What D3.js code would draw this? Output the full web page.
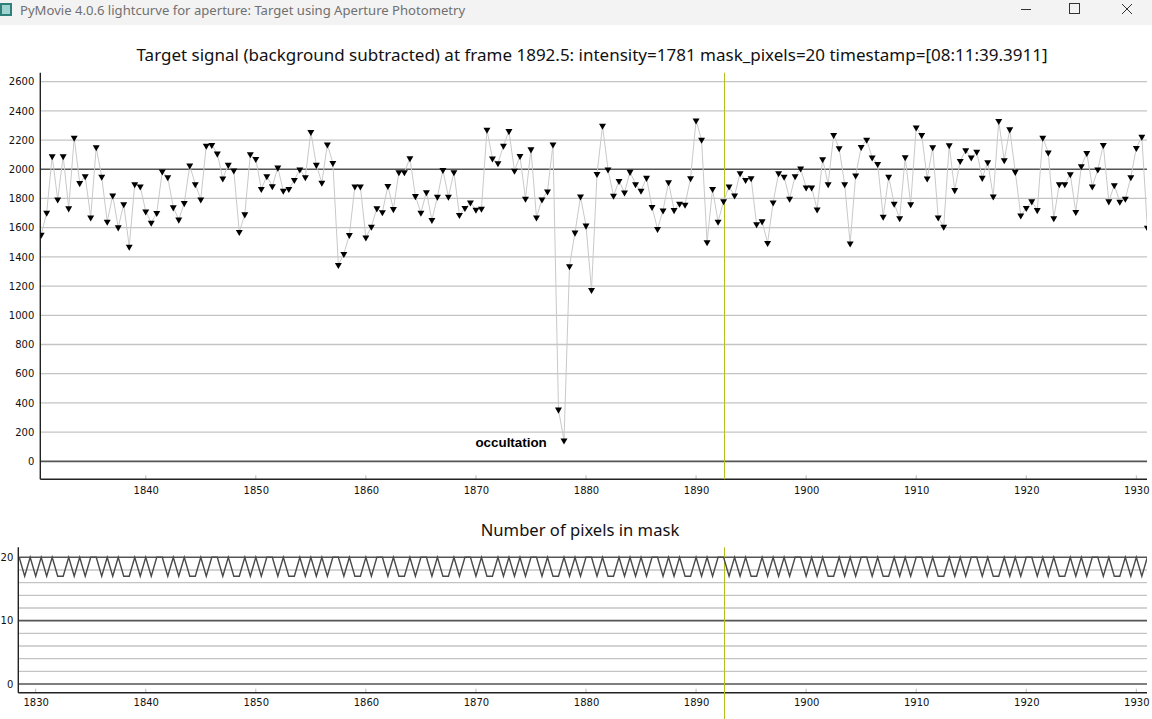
<!DOCTYPE html>
<html>
<head>
<meta charset="utf-8">
<script src="https://cdn.jsdelivr.net/npm/d3@7/dist/d3.min.js"></script>
<style>
  html, body { margin: 0; padding: 0; background: #ffffff; }
  svg { display: block; }
</style>
</head>
<body>
<svg id="chart" width="1152" height="719"></svg>
<script>
// ---------------- DATA ----------------
const windowTitle = "PyMovie 4.0.6 lightcurve for aperture: Target using Aperture Photometry";
const topTitle = "Target signal (background subtracted) at frame 1892.5: intensity=1781 mask_pixels=20 timestamp=[08:11:39.3911]";
const bottomTitle = "Number of pixels in mask";
const annotationText = "occultation";
const cursorFrame = 1892.5;

// signal: frames start at 1830.5, one reading per half frame
const signalStart = 1830.5;
const signalStep = 0.5;
const signalValues = [
  1552,1702,2089,1793,2089,1732,2216,1905,1952,1670,
  2150,1948,1641,1820,1602,1761,1470,1898,1882,1711,
  1634,1700,1984,1945,1739,1655,1768,2025,1898,1793,
  2161,2166,2107,1936,2030,1991,1570,1691,2102,2070,
  1864,1952,1884,2011,1852,1864,1927,1998,1945,2255,
  2030,1907,2170,2043,1345,1420,1550,1882,1882,1532,
  1607,1732,1705,1886,1727,1980,1980,2075,1816,1702,
  1843,1652,1811,1995,1811,1980,1686,1734,1773,1723,
  1730,2270,2073,2041,2161,2261,1989,2091,1798,2136,
  1670,1793,1848,2170,354,143,1336,1566,1813,1614,
  1173,1968,2298,1998,1818,1920,1841,1982,1898,1852,
  1941,1741,1591,1718,1911,1720,1764,1757,1939,2334,
  2202,1500,1864,1641,1781,1882,1820,1973,1927,1939,
  1623,1643,1495,1773,1973,1948,1798,1952,2005,1875,
  1875,1725,2068,1898,2234,2143,1898,1491,1957,2152,
  2202,2080,2036,1675,1948,1764,1664,2082,1761,2286,
  2234,1936,2150,1670,1607,2164,1857,2057,2130,2080,
  2120,1941,2048,1814,2330,2061,2273,1982,1684,1734,
  1780,1720,2216,2114,1664,1898,1898,1966,1707,2020,
  2111,1882,1998,2166,1780,1891,1777,1798,1945,2145,
  2223,1600
];

// mask pixels: frames start at 1828.5, one reading per half frame
const maskStart = 1828.5;
const maskStep = 0.5;
const maskValues = [
  20,17,20,17,20,17,20,17,17,
  20,17,20,17,20,20,
  17,20,17,20,17,17,
  20,17,20,17,20,20,
  17,20,17,20,17,17,
  20,17,20,20,
  17,20,17,17,
  20,17,20,17,20,20,
  17,20,17,17,
  20,17,20,17,20,17,20,20,
  17,20,17,17,
  20,17,20,20,
  17,20,17,17,
  20,17,20,20,
  17,20,17,17,
  20,17,20,20,
  17,20,17,17,
  20,17,20,17,20,17,20,20,
  17,20,17,17,
  20,17,20,17,20,20,
  17,20,17,17,
  20,17,20,17,20,17,20,20,
  17,20,17,20,17,17,
  20,17,20,17,20,20,
  17,20,17,20,17,17,
  20,17,20,17,20,17,20,20,
  17,20,17,20,17,17,
  20,17,20,17,20,20,
  17,20,17,17,
  20,17,20,17,20,20,
  17,20,17,17,
  20,17,20,17,20,20,
  17,20,17,17,
  20,17,20,17,20,20,
  17,20,17,20,17,17,
  20,17,20,17,20,20,
  17,20,17,17,
  20,17,20,17,20
];

const topYTicks = [0,200,400,600,800,1000,1200,1400,1600,1800,2000,2200,2400,2600];
const topYDark = [0, 2000];
const topXTicks = [1840,1850,1860,1870,1880,1890,1900,1910,1920,1930];
const botYTicks = [0,10,20];
const botYGrid = [0,2,4,6,8,10,12,14,16,18,20];
const botYDark = [0,10,20];
const botXTicks = [1830,1840,1850,1860,1870,1880,1890,1900,1910,1920,1930];

const signal = signalValues.map((v, i) => ({ f: signalStart + signalStep * i, v }));
const mask = maskValues.map((v, i) => ({ f: maskStart + maskStep * i, v }));

// ---------------- LAYOUT ----------------
const svg = d3.select("#chart");
const tickFont = "'DejaVu Sans', Verdana, sans-serif";
const titleFont = "'Noto Sans', 'Open Sans', sans-serif";
const cursorColor = "#b4c020";

// window title bar
svg.append("rect").attr("x", 0).attr("y", 0).attr("width", 1152).attr("height", 25).attr("fill", "#f3f3f3");
svg.append("rect").attr("x", 0).attr("y", 3).attr("width", 12).attr("height", 13).attr("fill", "#2f7f7a");
svg.append("rect").attr("x", 2).attr("y", 5).attr("width", 8).attr("height", 9).attr("fill", "#9fd3cf");
svg.append("text").attr("x", 20).attr("y", 15).attr("font-family", "'Noto Sans', 'Open Sans', sans-serif")
  .attr("font-size", 13.1).attr("fill", "#707070").text(windowTitle);
// window controls
svg.append("line").attr("x1", 1021).attr("x2", 1031).attr("y1", 9.5).attr("y2", 9.5).attr("stroke", "#333").attr("stroke-width", 1);
svg.append("rect").attr("x", 1069.5).attr("y", 3.5).attr("width", 10).attr("height", 10).attr("fill", "none").attr("stroke", "#333").attr("stroke-width", 1);
svg.append("path").attr("d", "M1122,4 L1132,14 M1132,4 L1122,14").attr("stroke", "#333").attr("stroke-width", 1);

// ---------------- TOP PLOT ----------------
const T = { left: 40.3, right: 1147, top: 72.7, bottom: 479.3 };
const xTop = d3.scaleLinear().domain([1830.42, 1930.97]).range([T.left, T.right]);
const yTop = d3.scaleLinear().domain([-123, 2661]).range([T.bottom, T.top]);

svg.append("defs").html(
  `<clipPath id="clipTop"><rect x="${T.left}" y="${T.top}" width="${T.right - T.left}" height="${T.bottom - T.top}"/></clipPath>` +
  `<clipPath id="clipBot"><rect x="18.3" y="547.3" width="${1147 - 18.3}" height="${692.7 - 547.3}"/></clipPath>`
);

svg.append("text").attr("x", 592).attr("y", 61).attr("text-anchor", "middle")
  .attr("font-family", titleFont).attr("font-size", 17).attr("fill", "#111").text(topTitle);

const gTop = svg.append("g");
// grid
gTop.selectAll("line.grid").data(topYTicks).enter().append("line")
  .attr("x1", T.left).attr("x2", T.right)
  .attr("y1", d => yTop(d)).attr("y2", d => yTop(d))
  .attr("stroke", d => topYDark.includes(d) ? "#555555" : "#c4c4c4")
  .attr("stroke-width", d => topYDark.includes(d) ? 1.6 : 1.3);

// y axis
const yAxisTop = d3.axisLeft(yTop).tickValues(topYTicks).tickSize(0).tickPadding(6).tickFormat(d3.format("d"));
const yAx = svg.append("g").attr("transform", `translate(${T.left},0)`).call(yAxisTop);
yAx.select(".domain").remove();
yAx.selectAll("text").attr("font-family", tickFont).attr("font-size", 10).attr("fill", "#111");
svg.append("line").attr("x1", T.left).attr("x2", T.left).attr("y1", T.top).attr("y2", T.bottom)
  .attr("stroke", "#222").attr("stroke-width", 1.4);

// x axis
const xAxisTop = d3.axisBottom(xTop).tickValues(topXTicks).tickSize(0).tickPadding(8).tickFormat(d3.format("d"));
const xAx = svg.append("g").attr("transform", `translate(0,${T.bottom})`).call(xAxisTop);
xAx.select(".domain").remove();
xAx.selectAll("text").attr("font-family", tickFont).attr("font-size", 10).attr("fill", "#111");
gTop.selectAll("line.xt").data(topXTicks).enter().append("line")
  .attr("x1", d => xTop(d)).attr("x2", d => xTop(d))
  .attr("y1", T.bottom - 4).attr("y2", T.bottom)
  .attr("stroke", "#bbbbbb").attr("stroke-width", 1);
svg.append("line").attr("x1", T.left).attr("x2", T.right).attr("y1", T.bottom).attr("y2", T.bottom)
  .attr("stroke", "#222").attr("stroke-width", 1.4);

// cursor line (snapped to a pixel column for a crisp colour)
const cxTop = Math.round(xTop(cursorFrame)) + 0.5;
svg.append("line").attr("x1", cxTop).attr("x2", cxTop)
  .attr("y1", T.top).attr("y2", T.bottom).attr("stroke", cursorColor).attr("stroke-width", 1);

// signal line + markers
const clipTop = svg.append("g").attr("clip-path", "url(#clipTop)");
clipTop.append("path").datum(signal)
  .attr("d", d3.line().x(d => xTop(d.f)).y(d => yTop(d.v)))
  .attr("fill", "none").attr("stroke", "#c9c9c9").attr("stroke-width", 1);
const tri = d3.symbol().type(d3.symbolTriangle).size(21);
clipTop.selectAll("path.mk").data(signal).enter().append("path")
  .attr("class", "mk")
  .attr("d", tri)
  .attr("transform", d => `translate(${xTop(d.f)},${yTop(d.v)}) rotate(180)`)
  .attr("fill", "#000");

// annotation
svg.append("text").attr("x", xTop(1869.95)).attr("y", yTop(100))
  .attr("font-family", "'Liberation Sans', Arial, sans-serif").attr("font-weight", "bold")
  .attr("font-size", 13.4).attr("fill", "#000").text(annotationText);

// ---------------- BOTTOM PLOT ----------------
const B = { left: 18.3, right: 1147, top: 547.3, bottom: 692.7 };
const xBot = d3.scaleLinear().domain([1828.42, 1930.97]).range([B.left, B.right]);
const yBot = d3.scaleLinear().domain([-1.37, 21.58]).range([B.bottom, B.top]);

svg.append("text").attr("x", 580).attr("y", 536).attr("text-anchor", "middle")
  .attr("font-family", titleFont).attr("font-size", 16.6).attr("fill", "#111").text(bottomTitle);

svg.selectAll("line.bgrid").data(botYGrid).enter().append("line")
  .attr("x1", B.left).attr("x2", B.right)
  .attr("y1", d => yBot(d)).attr("y2", d => yBot(d))
  .attr("stroke", d => botYDark.includes(d) ? "#555555" : "#c4c4c4")
  .attr("stroke-width", d => botYDark.includes(d) ? 1.6 : 1.3);

const yAxisBot = d3.axisLeft(yBot).tickValues(botYTicks).tickSize(0).tickPadding(5).tickFormat(d3.format("d"));
const yAxB = svg.append("g").attr("transform", `translate(${B.left},0)`).call(yAxisBot);
yAxB.select(".domain").remove();
yAxB.selectAll("text").attr("font-family", tickFont).attr("font-size", 10).attr("fill", "#111");
svg.append("line").attr("x1", B.left).attr("x2", B.left).attr("y1", B.top).attr("y2", B.bottom)
  .attr("stroke", "#222").attr("stroke-width", 1.4);

const xAxisBot = d3.axisBottom(xBot).tickValues(botXTicks).tickSize(0).tickPadding(6).tickFormat(d3.format("d"));
const xAxB = svg.append("g").attr("transform", `translate(0,${B.bottom})`).call(xAxisBot);
xAxB.select(".domain").remove();
xAxB.selectAll("text").attr("font-family", tickFont).attr("font-size", 10).attr("fill", "#111");
svg.selectAll("line.bxt").data(botXTicks).enter().append("line")
  .attr("x1", d => xBot(d)).attr("x2", d => xBot(d))
  .attr("y1", B.bottom - 4).attr("y2", B.bottom)
  .attr("stroke", "#bbbbbb").attr("stroke-width", 1);
svg.append("line").attr("x1", B.left).attr("x2", B.right).attr("y1", B.bottom).attr("y2", B.bottom)
  .attr("stroke", "#222").attr("stroke-width", 1.4);

const cxBot = Math.round(xBot(cursorFrame)) + 0.5;
svg.append("line").attr("x1", cxBot).attr("x2", cxBot)
  .attr("y1", B.top).attr("y2", 719).attr("stroke", cursorColor).attr("stroke-width", 1);

svg.append("g").attr("clip-path", "url(#clipBot)").append("path").datum(mask)
  .attr("d", d3.line().x(d => xBot(d.f)).y(d => yBot(d.v)))
  .attr("fill", "none").attr("stroke", "#4a4a4a").attr("stroke-width", 1.4);
</script>
</body>
</html>
